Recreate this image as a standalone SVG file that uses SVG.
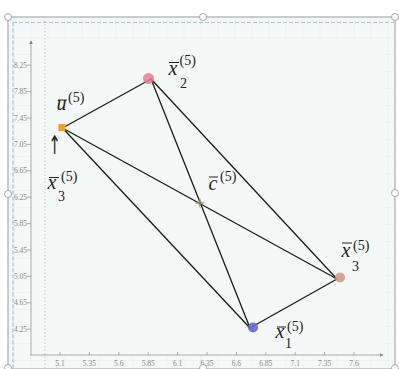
<svg xmlns="http://www.w3.org/2000/svg" width="399" height="369" viewBox="0 0 399 369">
<defs>
<style>
.tick{font-family:"Liberation Serif","DejaVu Serif",serif;font-size:7.5px;fill:#8a8a8a}
.axis{stroke:#9a9a9a;stroke-width:0.8;fill:none}
.grid{stroke:#e3eae7;stroke-width:0.7}
.edge{stroke:#1c1c1c;stroke-width:1.3;fill:none;stroke-linecap:round}
.m{font-family:"Liberation Serif","DejaVu Serif",serif;font-style:italic;font-size:20px;fill:#222}
.s{font-family:"Liberation Serif","DejaVu Serif",serif;font-size:14px;fill:#222}
.bar{stroke:#222;stroke-width:1}
.handle{fill:#fff;stroke:#a8a8a8;stroke-width:1}
</style>
<pattern id="gridp" x="14.5" y="4" width="17" height="17" patternUnits="userSpaceOnUse">
<path d="M17 0V17M0 17H17" class="grid" fill="none"/>
</pattern>
<marker id="arr" viewBox="0 0 6 6" refX="5" refY="3" markerWidth="5" markerHeight="5" orient="auto">
<path d="M0 0L6 3L0 6Z" fill="#8a8a8a"/>
</marker>
</defs>
<rect width="399" height="369" fill="#fff"/>
<!-- frame -->
<g id="frame">
<rect x="8" y="17" width="387" height="352" fill="#f4f8f6" stroke="#aaaaaa" stroke-width="1.2"/>
<rect x="9" y="18" width="385" height="350" fill="url(#gridp)"/>
<rect x="31" y="40" width="354" height="315" fill="#f4f8f6"/>
<path d="M13 22.5H394M13 22.5V369" stroke="#9ec6e6" stroke-width="1.2" stroke-dasharray="4 2" fill="none"/>
<line x1="45" y1="17" x2="45" y2="369" stroke="#c4c8c6" stroke-width="1" stroke-dasharray="1.5 2"/>
</g>
<!-- axes -->
<g id="axes">
<line class="axis" x1="31" y1="355" x2="31" y2="41" marker-end="url(#arr)"/>
<line class="axis" x1="30" y1="355" x2="383" y2="355" marker-end="url(#arr)"/>
<g class="axis">
<path d="M27 65.2H31M27 91.6H31M27 118H31M27 144.4H31M27 170.8H31M27 197.2H31M27 223.6H31M27 250H31M27 276.4H31M27 302.8H31M27 329.2H31"/>
<path d="M60 352V355M89.4 352V355M118.8 352V355M148.2 352V355M177.6 352V355M207 352V355M236.4 352V355M265.8 352V355M295.2 352V355M324.6 352V355M354 352V355"/>
</g>
<g class="tick" text-anchor="end">
<text x="27" y="67.7">8.25</text>
<text x="27" y="94.1">7.85</text>
<text x="27" y="120.5">7.45</text>
<text x="27" y="146.9">7.05</text>
<text x="27" y="173.3">6.65</text>
<text x="27" y="199.7">6.25</text>
<text x="27" y="226.1">5.85</text>
<text x="27" y="252.5">5.45</text>
<text x="27" y="278.9">5.05</text>
<text x="27" y="305.3">4.65</text>
<text x="27" y="331.7">4.25</text>
</g>
<g class="tick" text-anchor="middle">
<text x="60" y="365.5">5.1</text>
<text x="89.4" y="365.5">5.35</text>
<text x="118.8" y="365.5">5.6</text>
<text x="148.2" y="365.5">5.85</text>
<text x="177.6" y="365.5">6.1</text>
<text x="207" y="365.5">6.35</text>
<text x="236.4" y="365.5">6.6</text>
<text x="265.8" y="365.5">6.85</text>
<text x="295.2" y="365.5">7.1</text>
<text x="324.6" y="365.5">7.35</text>
<text x="354" y="365.5">7.6</text>
</g>
</g>
<!-- handles -->
<g id="handles">
<circle class="handle" cx="8" cy="17" r="3.5"/>
<circle class="handle" cx="203" cy="17" r="3.5"/>
<circle class="handle" cx="395" cy="17" r="3.5"/>
<circle class="handle" cx="8" cy="194" r="3.5"/>
<circle class="handle" cx="395" cy="193" r="3.5"/>
<circle class="handle" cx="8" cy="368" r="3.5"/>
<circle class="handle" cx="203" cy="368" r="3.5"/>
<circle class="handle" cx="395" cy="368" r="3.5"/>
</g>
<!-- connectors -->
<g id="connectors">
<line class="edge" x1="62.5" y1="128" x2="151" y2="79"/>
<line class="edge" x1="62.5" y1="128" x2="337" y2="279"/>
<line class="edge" x1="62.5" y1="128" x2="250" y2="328"/>
<line class="edge" x1="151" y1="79" x2="250" y2="328"/>
<line class="edge" x1="151" y1="79" x2="337" y2="279"/>
<line class="edge" x1="250" y1="328" x2="337" y2="279"/>
</g>
<!-- nodes -->
<g id="node-u">
<rect x="58.5" y="124" width="7" height="7" fill="#f5a21a"/>
<text class="m" x="56.5" y="110">u</text>
<line class="bar" x1="58" y1="100" x2="67" y2="100"/>
<text class="s" x="68" y="102" font-size="13">(5)</text>
<text transform="translate(54.5,154) scale(1,1.7)" x="0" y="0" font-family="'DejaVu Sans',sans-serif" font-size="15" fill="#222" text-anchor="middle">↑</text>
<text class="m" x="47.5" y="189">x</text>
<line class="bar" x1="49" y1="177.5" x2="59" y2="177.5"/>
<text class="s" x="61" y="181">(5)</text>
<text class="s" x="58" y="201">3</text>
</g>
<g id="node-x2">
<circle cx="148.5" cy="78.5" r="5.5" fill="#ec7b8e" fill-opacity="0.85"/>
<text class="m" x="168.5" y="75">x</text>
<line class="bar" x1="169" y1="62.5" x2="179" y2="62.5"/>
<text class="s" x="179.5" y="65">(5)</text>
<text class="s" x="180" y="87.5">2</text>
</g>
<g id="node-c">
<path d="M200 197.5L201.3 201.7L205.5 203L201.3 204.3L200 208.5L198.7 204.3L194.5 203L198.7 201.7Z" fill="#9a8a66" fill-opacity="0.8"/>
<text class="m" x="208.5" y="190">c</text>
<line class="bar" x1="209" y1="177" x2="218" y2="177"/>
<text class="s" x="220" y="181">(5)</text>
</g>
<g id="node-x3">
<circle cx="340" cy="277.5" r="5" fill="#d39b8a" fill-opacity="0.9"/>
<text class="m" x="341.5" y="257">x</text>
<line class="bar" x1="342" y1="243" x2="352" y2="243"/>
<text class="s" x="353" y="250">(5)</text>
<text class="s" x="352" y="271">3</text>
</g>
<g id="node-x1">
<circle cx="253" cy="327.5" r="5" fill="#6868d2" fill-opacity="0.9"/>
<text class="m" x="275.5" y="338">x</text>
<line class="bar" x1="277" y1="327" x2="286" y2="327"/>
<text class="s" x="287" y="331">(5)</text>
<text class="s" x="285" y="348">1</text>
</g>
</svg>
